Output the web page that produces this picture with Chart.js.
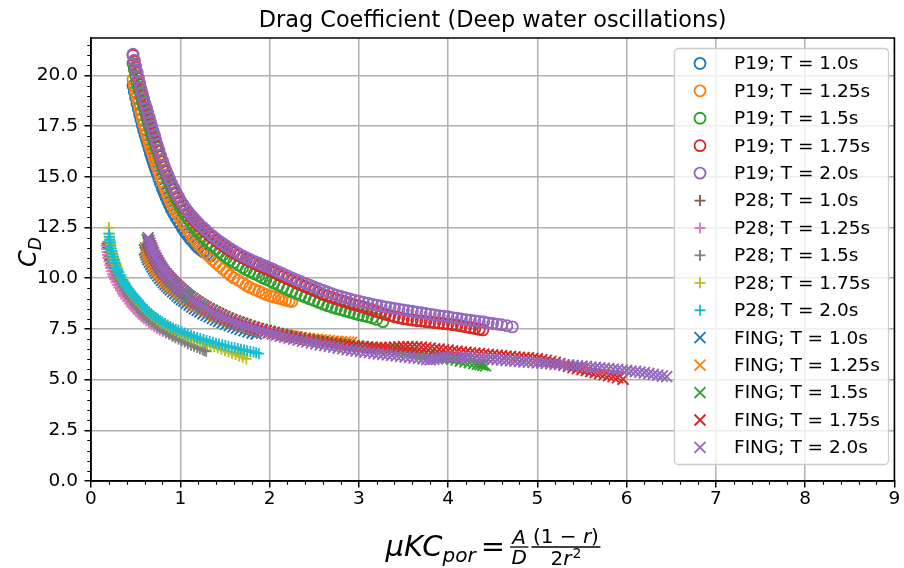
<!DOCTYPE html>
<html>
<head>
<meta charset="utf-8">
<script src="https://cdn.jsdelivr.net/npm/chart.js@4.4.1/dist/chart.umd.min.js"></script>
<style>
  html, body { margin: 0; padding: 0; background: #fff; }
  #wrap { width: 904px; height: 568px; }
</style>
</head>
<body>
<div id="wrap"><canvas id="cd-chart" width="904" height="568"></canvas></div>
<script>
// Axes ticks
const xTicks = [0, 1, 2, 3, 4, 5, 6, 7, 8, 9];
const yTicks = [0, 2.5, 5, 7.5, 10, 12.5, 15, 17.5, 20];

const periods = ["1.0", "1.25", "1.5", "1.75", "2.0"];
const tab10 = ["#1f77b4", "#ff7f0e", "#2ca02c", "#d62728", "#9467bd",
               "#8c564b", "#e377c2", "#7f7f7f", "#bcbd22", "#17becf"];

// ---- P19 (circles) ----
const p19T10x = [0.47,0.485,0.50,0.515,0.53,0.545,0.56,0.575,0.59,0.605,0.62,0.635,0.65,0.665,0.68,0.695,0.71,0.725,0.74,0.76,0.78,0.80,0.82,0.84,0.86,0.88,0.90,0.925,0.95,0.975,1.00,1.025,1.05,1.075,1.10,1.125,1.15,1.175,1.20,1.23,1.26,1.30,1.34];
const p19T10y = [19.5,19.2,18.9,18.62,18.35,18.07,17.8,17.55,17.3,17.07,16.85,16.62,16.4,16.17,15.95,15.75,15.55,15.35,15.15,14.9,14.65,14.42,14.2,14.0,13.8,13.6,13.4,13.2,13.0,12.82,12.65,12.47,12.3,12.15,12.0,11.87,11.75,11.62,11.5,11.4,11.3,11.2,11.1];

const p19T125x = [0.47,0.485,0.50,0.515,0.53,0.545,0.56,0.575,0.59,0.605,0.62,0.635,0.65,0.665,0.68,0.695,0.71,0.725,0.74,0.76,0.78,0.80,0.82,0.84,0.86,0.88,0.90,0.925,0.95,0.975,1.00,1.03,1.06,1.09,1.12,1.15,1.18,1.21,1.25,1.28,1.32,1.36,1.40,1.44,1.48,1.52,1.56,1.60,1.65,1.70,1.74,1.78,1.83,1.88,1.92,1.96,2.01,2.05,2.10,2.14,2.18,2.22,2.25];
const p19T125y = [19.8,19.5,19.2,18.92,18.65,18.37,18.1,17.85,17.6,17.37,17.15,16.92,16.7,16.5,16.3,16.1,15.9,15.7,15.5,15.25,15.0,14.77,14.55,14.32,14.1,13.9,13.7,13.5,13.3,13.12,12.95,12.75,12.55,12.35,12.15,11.97,11.8,11.62,11.45,11.27,11.1,10.92,10.75,10.6,10.45,10.3,10.15,10.02,9.9,9.77,9.65,9.55,9.45,9.36,9.28,9.2,9.13,9.07,9.02,8.97,8.92,8.88,8.85];

const p19T15x = [0.47,0.485,0.50,0.515,0.53,0.545,0.56,0.575,0.59,0.605,0.62,0.635,0.65,0.665,0.68,0.695,0.71,0.725,0.74,0.76,0.78,0.80,0.82,0.84,0.86,0.88,0.90,0.925,0.95,0.975,1.00,1.03,1.06,1.09,1.12,1.15,1.18,1.21,1.25,1.28,1.32,1.36,1.40,1.44,1.48,1.52,1.56,1.60,1.65,1.70,1.74,1.78,1.83,1.88,1.92,1.96,2.01,2.05,2.10,2.15,2.20,2.25,2.30,2.35,2.40,2.45,2.50,2.55,2.60,2.65,2.70,2.75,2.80,2.85,2.90,2.95,3.00,3.05,3.10,3.15,3.20,3.27];
const p19T15y = [20.6,20.3,20.0,19.72,19.45,19.2,18.95,18.7,18.45,18.22,18.0,17.77,17.55,17.32,17.1,16.9,16.7,16.5,16.3,16.05,15.8,15.55,15.3,15.07,14.85,14.65,14.45,14.2,13.95,13.72,13.5,13.3,13.1,12.92,12.75,12.57,12.4,12.25,12.05,11.92,11.75,11.6,11.45,11.3,11.15,11.02,10.9,10.78,10.65,10.52,10.42,10.33,10.22,10.12,10.03,9.95,9.85,9.76,9.65,9.55,9.45,9.35,9.25,9.16,9.07,8.98,8.9,8.81,8.72,8.64,8.57,8.51,8.45,8.38,8.32,8.26,8.2,8.15,8.1,8.04,7.97,7.86];

const p19T175x = [0.47,0.485,0.50,0.515,0.53,0.545,0.56,0.575,0.59,0.605,0.62,0.635,0.65,0.665,0.68,0.695,0.71,0.725,0.74,0.76,0.78,0.80,0.82,0.84,0.86,0.88,0.90,0.925,0.95,0.975,1.00,1.03,1.06,1.09,1.12,1.15,1.18,1.21,1.25,1.28,1.32,1.36,1.40,1.44,1.48,1.52,1.56,1.60,1.65,1.70,1.74,1.78,1.83,1.88,1.92,1.96,2.01,2.05,2.10,2.15,2.20,2.25,2.30,2.35,2.40,2.45,2.50,2.55,2.60,2.65,2.70,2.75,2.80,2.85,2.90,2.95,3.00,3.05,3.10,3.15,3.20,3.25,3.30,3.35,3.40,3.45,3.50,3.55,3.60,3.65,3.70,3.75,3.80,3.85,3.90,3.95,4.00,4.05,4.10,4.15,4.20,4.25,4.30,4.35,4.39];
const p19T175y = [21.0,20.7,20.4,20.12,19.85,19.57,19.3,19.05,18.8,18.57,18.35,18.12,17.9,17.67,17.45,17.22,17.0,16.77,16.55,16.27,16.0,15.75,15.5,15.27,15.05,14.85,14.65,14.42,14.2,14.0,13.8,13.6,13.4,13.22,13.05,12.9,12.75,12.62,12.45,12.32,12.15,12.0,11.85,11.72,11.6,11.47,11.35,11.25,11.12,11.01,10.92,10.83,10.72,10.62,10.53,10.46,10.37,10.28,10.18,10.08,9.98,9.88,9.78,9.68,9.58,9.49,9.4,9.3,9.2,9.12,9.05,8.97,8.9,8.83,8.76,8.7,8.64,8.57,8.5,8.43,8.36,8.29,8.22,8.16,8.1,8.05,8.0,7.97,7.94,7.91,7.89,7.86,7.84,7.81,7.79,7.76,7.74,7.71,7.68,7.64,7.6,7.56,7.52,7.48,7.45];

const p19T20x = [0.47,0.485,0.50,0.515,0.53,0.545,0.56,0.575,0.59,0.605,0.62,0.635,0.65,0.665,0.68,0.695,0.71,0.725,0.74,0.76,0.78,0.80,0.82,0.84,0.86,0.88,0.90,0.925,0.95,0.975,1.00,1.03,1.06,1.09,1.12,1.15,1.18,1.21,1.25,1.28,1.32,1.36,1.40,1.44,1.48,1.52,1.56,1.60,1.65,1.70,1.74,1.78,1.83,1.88,1.92,1.96,2.01,2.05,2.10,2.15,2.20,2.25,2.30,2.35,2.40,2.45,2.50,2.55,2.60,2.65,2.70,2.75,2.80,2.85,2.90,2.95,3.00,3.05,3.10,3.15,3.20,3.25,3.30,3.35,3.40,3.45,3.50,3.55,3.60,3.65,3.70,3.75,3.80,3.85,3.90,3.95,4.00,4.05,4.10,4.15,4.20,4.25,4.30,4.35,4.40,4.45,4.50,4.55,4.60,4.66,4.72];
const p19T20y = [21.05,20.75,20.45,20.17,19.9,19.62,19.35,19.1,18.85,18.62,18.4,18.17,17.95,17.72,17.5,17.27,17.05,16.82,16.6,16.32,16.05,15.8,15.55,15.32,15.1,14.9,14.7,14.47,14.25,14.05,13.85,13.65,13.45,13.28,13.12,12.97,12.82,12.69,12.52,12.4,12.24,12.09,11.95,11.82,11.7,11.58,11.46,11.35,11.22,11.1,11.02,10.93,10.83,10.74,10.66,10.59,10.5,10.42,10.32,10.22,10.12,10.02,9.93,9.84,9.75,9.66,9.57,9.48,9.4,9.32,9.24,9.17,9.1,9.04,8.98,8.92,8.87,8.82,8.77,8.72,8.67,8.63,8.59,8.55,8.51,8.47,8.44,8.4,8.37,8.33,8.3,8.26,8.23,8.19,8.16,8.13,8.1,8.06,8.03,7.99,7.96,7.93,7.9,7.87,7.84,7.8,7.77,7.74,7.71,7.66,7.6];

// ---- P28 (plus) ----
const p28T10x = [0.18,0.185,0.19,0.20,0.21,0.22,0.23,0.245,0.26,0.275,0.29,0.31,0.33,0.35,0.37,0.395,0.42,0.445,0.47,0.495,0.52,0.55,0.58];
const p28T10y = [11.7,11.5,11.3,11.1,10.9,10.72,10.55,10.37,10.2,10.02,9.85,9.67,9.5,9.35,9.2,9.05,8.9,8.75,8.6,8.47,8.35,8.22,8.1];

const p28T125x = [0.17,0.175,0.18,0.185,0.19,0.20,0.21,0.22,0.23,0.24,0.25,0.265,0.28,0.295,0.31,0.33,0.35,0.37,0.39,0.41,0.43,0.455,0.48,0.505,0.53,0.56,0.59,0.62,0.65,0.68,0.71,0.74,0.77,0.805,0.84,0.88,0.92];
const p28T125y = [11.6,11.45,11.3,11.15,11.0,10.82,10.65,10.5,10.35,10.22,10.1,9.95,9.8,9.67,9.55,9.4,9.25,9.12,9.0,8.87,8.75,8.62,8.5,8.37,8.25,8.12,8.0,7.9,7.8,7.7,7.6,7.52,7.45,7.37,7.3,7.22,7.15];

const p28T15x = [0.19,0.195,0.20,0.21,0.22,0.23,0.24,0.25,0.26,0.275,0.29,0.305,0.32,0.34,0.36,0.38,0.40,0.42,0.44,0.465,0.49,0.515,0.54,0.565,0.59,0.62,0.65,0.68,0.71,0.74,0.77,0.805,0.84,0.875,0.91,0.945,0.98,1.015,1.05,1.085,1.12,1.155,1.19,1.22,1.25,1.27,1.29];
const p28T15y = [11.8,11.62,11.45,11.27,11.1,10.95,10.8,10.65,10.5,10.32,10.15,10.0,9.85,9.7,9.55,9.4,9.25,9.12,9.0,8.85,8.7,8.57,8.45,8.32,8.2,8.07,7.95,7.85,7.75,7.65,7.55,7.45,7.35,7.25,7.15,7.07,7.0,6.92,6.85,6.77,6.7,6.64,6.58,6.52,6.47,6.43,6.4];

const p28T175x = [0.20,0.205,0.21,0.215,0.22,0.23,0.24,0.25,0.26,0.27,0.28,0.29,0.30,0.315,0.33,0.345,0.36,0.38,0.40,0.42,0.44,0.46,0.48,0.505,0.53,0.555,0.58,0.605,0.63,0.655,0.68,0.71,0.74,0.77,0.80,0.835,0.87,0.905,0.94,0.975,1.01,1.045,1.08,1.115,1.15,1.185,1.22,1.26,1.30,1.34,1.38,1.42,1.46,1.50,1.54,1.58,1.62,1.66,1.70,1.74];
const p28T175y = [12.5,12.2,12.0,11.82,11.65,11.47,11.3,11.12,10.95,10.82,10.7,10.57,10.45,10.3,10.15,10.02,9.9,9.75,9.6,9.47,9.35,9.22,9.1,8.97,8.85,8.72,8.6,8.49,8.38,8.28,8.18,8.06,7.95,7.86,7.78,7.68,7.58,7.5,7.42,7.34,7.27,7.2,7.13,7.06,7.0,6.94,6.88,6.81,6.75,6.68,6.62,6.56,6.5,6.43,6.37,6.3,6.24,6.17,6.1,6.02];

const p28T20x = [0.20,0.205,0.21,0.215,0.22,0.225,0.23,0.24,0.25,0.26,0.27,0.28,0.29,0.30,0.31,0.325,0.34,0.355,0.37,0.385,0.40,0.415,0.43,0.45,0.47,0.49,0.51,0.53,0.55,0.575,0.60,0.625,0.65,0.675,0.70,0.725,0.75,0.775,0.80,0.83,0.86,0.89,0.92,0.95,0.98,1.015,1.05,1.085,1.12,1.155,1.19,1.225,1.26,1.295,1.33,1.365,1.40,1.435,1.47,1.505,1.54,1.575,1.61,1.645,1.68,1.715,1.75,1.785,1.82,1.85,1.88];
const p28T20y = [12.2,12.05,11.9,11.75,11.6,11.47,11.35,11.2,11.05,10.9,10.75,10.62,10.5,10.4,10.3,10.17,10.05,9.92,9.8,9.7,9.6,9.5,9.4,9.3,9.2,9.1,9.0,8.9,8.8,8.67,8.55,8.45,8.35,8.25,8.15,8.07,8.0,7.92,7.85,7.77,7.7,7.62,7.55,7.49,7.43,7.36,7.3,7.24,7.19,7.13,7.08,7.03,6.98,6.93,6.89,6.84,6.8,6.76,6.72,6.68,6.64,6.6,6.57,6.53,6.5,6.46,6.43,6.39,6.36,6.32,6.28];

// ---- FING (x) ----
const fingT10x = [0.60,0.61,0.62,0.63,0.64,0.655,0.67,0.685,0.70,0.715,0.73,0.75,0.77,0.79,0.81,0.83,0.85,0.87,0.89,0.915,0.94,0.965,0.99,1.015,1.04,1.07,1.10,1.13,1.16,1.19,1.22,1.255,1.29,1.325,1.36,1.395,1.43,1.47,1.51,1.55,1.59,1.63,1.67,1.715,1.76,1.805,1.85];
const fingT10y = [11.4,11.27,11.15,11.03,10.92,10.8,10.68,10.56,10.45,10.35,10.24,10.12,10.0,9.9,9.8,9.7,9.61,9.52,9.43,9.33,9.23,9.13,9.04,8.95,8.87,8.77,8.68,8.59,8.5,8.42,8.34,8.25,8.17,8.1,8.02,7.95,7.88,7.8,7.73,7.66,7.6,7.54,7.48,7.42,7.36,7.3,7.25];

const fingT125x = [0.61,0.62,0.63,0.64,0.65,0.665,0.68,0.695,0.71,0.725,0.74,0.76,0.78,0.80,0.82,0.84,0.86,0.88,0.90,0.925,0.95,0.975,1.00,1.025,1.05,1.08,1.11,1.14,1.17,1.20,1.23,1.265,1.30,1.335,1.37,1.405,1.44,1.48,1.52,1.56,1.60,1.64,1.68,1.725,1.77,1.815,1.86,1.905,1.95,1.995,2.04,2.085,2.13,2.175,2.22,2.265,2.31,2.355,2.40,2.445,2.49,2.535,2.58,2.625,2.67,2.715,2.76,2.805,2.85,2.885,2.92];
const fingT125y = [11.5,11.37,11.25,11.13,11.02,10.9,10.78,10.66,10.55,10.45,10.35,10.23,10.12,10.02,9.92,9.83,9.74,9.65,9.57,9.47,9.38,9.29,9.2,9.11,9.03,8.94,8.85,8.76,8.68,8.6,8.52,8.44,8.36,8.28,8.21,8.14,8.07,8.0,7.93,7.86,7.8,7.74,7.68,7.62,7.57,7.51,7.46,7.41,7.37,7.33,7.29,7.25,7.22,7.19,7.16,7.13,7.1,7.07,7.05,7.02,7.0,6.98,6.96,6.94,6.92,6.9,6.89,6.87,6.86,6.85,6.84];

const fingT15x = [0.63,0.64,0.65,0.66,0.67,0.685,0.70,0.715,0.73,0.745,0.76,0.775,0.79,0.81,0.83,0.85,0.87,0.89,0.91,0.93,0.95,0.975,1.00,1.025,1.05,1.075,1.10,1.13,1.16,1.19,1.22,1.25,1.28,1.315,1.35,1.385,1.42,1.455,1.49,1.53,1.57,1.61,1.65,1.69,1.73,1.775,1.82,1.865,1.91,1.955,2.00,2.045,2.09,2.14,2.19,2.24,2.29,2.34,2.39,2.44,2.49,2.54,2.59,2.64,2.69,2.74,2.79,2.84,2.89,2.94,2.99,3.04,3.09,3.14,3.19,3.24,3.29,3.34,3.39,3.44,3.49,3.54,3.59,3.64,3.69,3.74,3.79,3.84,3.89,3.94,3.99,4.04,4.09,4.14,4.19,4.24,4.29,4.33,4.36,4.39,4.42];
const fingT15y = [11.9,11.75,11.62,11.5,11.4,11.26,11.12,11.0,10.88,10.76,10.65,10.55,10.45,10.33,10.22,10.12,10.02,9.93,9.84,9.75,9.67,9.57,9.47,9.37,9.28,9.19,9.1,9.01,8.92,8.83,8.74,8.66,8.58,8.5,8.42,8.34,8.27,8.2,8.12,8.04,7.97,7.9,7.84,7.78,7.72,7.65,7.59,7.53,7.48,7.43,7.38,7.33,7.28,7.23,7.18,7.13,7.09,7.05,7.01,6.97,6.94,6.9,6.87,6.84,6.81,6.78,6.75,6.72,6.7,6.67,6.65,6.62,6.6,6.58,6.56,6.54,6.52,6.5,6.47,6.44,6.41,6.38,6.34,6.31,6.27,6.24,6.2,6.17,6.13,6.09,6.05,6.01,5.97,5.92,5.88,5.84,5.8,5.77,5.74,5.71,5.68];

const fingT175x = [0.64,0.65,0.66,0.67,0.68,0.695,0.71,0.725,0.74,0.755,0.77,0.785,0.80,0.82,0.84,0.86,0.88,0.90,0.92,0.94,0.96,0.985,1.01,1.035,1.06,1.085,1.11,1.14,1.17,1.20,1.23,1.26,1.29,1.325,1.36,1.395,1.43,1.465,1.50,1.54,1.58,1.62,1.66,1.70,1.74,1.785,1.83,1.875,1.92,1.965,2.01,2.055,2.10,2.15,2.20,2.25,2.30,2.35,2.40,2.45,2.50,2.55,2.60,2.65,2.70,2.75,2.80,2.85,2.90,2.95,3.00,3.05,3.10,3.15,3.20,3.25,3.30,3.35,3.40,3.45,3.50,3.55,3.60,3.65,3.70,3.75,3.80,3.85,3.90,3.95,4.00,4.05,4.10,4.15,4.20,4.25,4.30,4.35,4.40,4.45,4.50,4.55,4.60,4.65,4.70,4.75,4.80,4.85,4.90,4.95,5.00,5.05,5.10,5.15,5.20,5.25,5.30,5.35,5.40,5.45,5.50,5.55,5.60,5.65,5.70,5.75,5.80,5.85,5.90,5.96];
const fingT175y = [11.85,11.72,11.6,11.49,11.38,11.24,11.1,10.97,10.85,10.73,10.62,10.52,10.42,10.31,10.2,10.1,10.0,9.91,9.82,9.73,9.65,9.55,9.45,9.35,9.26,9.17,9.08,8.99,8.9,8.81,8.72,8.64,8.56,8.48,8.4,8.32,8.25,8.17,8.1,8.02,7.95,7.88,7.82,7.76,7.7,7.63,7.57,7.51,7.46,7.41,7.36,7.31,7.26,7.21,7.16,7.11,7.07,7.03,6.99,6.95,6.92,6.88,6.85,6.82,6.79,6.76,6.73,6.7,6.68,6.66,6.64,6.62,6.6,6.59,6.58,6.58,6.58,6.59,6.6,6.61,6.62,6.62,6.62,6.61,6.6,6.58,6.55,6.52,6.5,6.47,6.45,6.42,6.4,6.37,6.35,6.32,6.3,6.28,6.26,6.24,6.22,6.2,6.18,6.16,6.14,6.12,6.1,6.08,6.07,6.05,6.03,5.99,5.95,5.9,5.85,5.79,5.72,5.66,5.6,5.55,5.5,5.45,5.4,5.35,5.3,5.25,5.2,5.15,5.1,5.02];

const fingT20x = [0.64,0.65,0.66,0.67,0.68,0.69,0.70,0.715,0.73,0.745,0.76,0.775,0.79,0.805,0.82,0.84,0.86,0.88,0.90,0.92,0.94,0.96,0.98,1.005,1.03,1.055,1.08,1.105,1.13,1.16,1.19,1.22,1.25,1.28,1.31,1.345,1.38,1.415,1.45,1.485,1.52,1.56,1.60,1.64,1.68,1.72,1.76,1.805,1.85,1.895,1.94,1.985,2.03,2.075,2.12,2.17,2.22,2.27,2.32,2.37,2.42,2.47,2.52,2.57,2.62,2.67,2.72,2.77,2.82,2.87,2.92,2.97,3.02,3.07,3.12,3.17,3.22,3.27,3.32,3.37,3.42,3.47,3.52,3.57,3.62,3.67,3.72,3.76,3.80,3.84,3.88,3.92,3.96,4.00,4.05,4.10,4.15,4.20,4.25,4.30,4.35,4.40,4.45,4.50,4.55,4.60,4.65,4.70,4.75,4.80,4.85,4.90,4.95,5.00,5.05,5.10,5.15,5.20,5.25,5.30,5.35,5.40,5.45,5.50,5.55,5.60,5.65,5.70,5.75,5.80,5.85,5.90,5.95,6.00,6.05,6.10,6.15,6.20,6.25,6.30,6.35,6.40,6.45];
const fingT20y = [12.0,11.86,11.72,11.6,11.48,11.36,11.25,11.12,11.0,10.87,10.75,10.63,10.52,10.42,10.32,10.21,10.1,10.0,9.9,9.81,9.72,9.63,9.55,9.45,9.35,9.25,9.15,9.06,8.98,8.89,8.8,8.71,8.62,8.54,8.46,8.38,8.3,8.22,8.15,8.07,8.0,7.92,7.85,7.78,7.72,7.66,7.6,7.54,7.48,7.42,7.36,7.3,7.25,7.2,7.15,7.1,7.05,7.0,6.95,6.9,6.86,6.81,6.77,6.72,6.68,6.64,6.6,6.56,6.52,6.48,6.45,6.42,6.39,6.36,6.33,6.3,6.27,6.25,6.22,6.2,6.17,6.15,6.12,6.1,6.07,6.05,6.02,6.0,5.98,6.0,6.03,6.07,6.1,6.11,6.12,6.11,6.1,6.09,6.08,6.06,6.05,6.03,6.02,6.0,5.99,5.97,5.95,5.93,5.92,5.9,5.88,5.86,5.85,5.83,5.82,5.8,5.78,5.76,5.75,5.73,5.72,5.7,5.68,5.66,5.65,5.62,5.6,5.58,5.56,5.54,5.52,5.5,5.47,5.45,5.42,5.4,5.37,5.34,5.3,5.26,5.22,5.18,5.15];

const FONT = "DejaVu Sans";

// series table: label, data, colour, marker
const series = [
  ["P19", p19T10x, p19T10y], ["P19", p19T125x, p19T125y], ["P19", p19T15x, p19T15y],
  ["P19", p19T175x, p19T175y], ["P19", p19T20x, p19T20y],
  ["P28", p28T10x, p28T10y], ["P28", p28T125x, p28T125y], ["P28", p28T15x, p28T15y],
  ["P28", p28T175x, p28T175y], ["P28", p28T20x, p28T20y],
  ["FING", fingT10x, fingT10y], ["FING", fingT125x, fingT125y], ["FING", fingT15x, fingT15y],
  ["FING", fingT175x, fingT175y], ["FING", fingT20x, fingT20y]
].map(([name, xs, ys], i) => ({
  label: name + "; T = " + periods[i % 5] + "s",
  data: xs.map((x, k) => ({ x: x, y: ys[k] })),
  color: tab10[i % 10],
  marker: name === "P19" ? "circle" : name === "P28" ? "cross" : "crossRot"
}));

const datasets = series.map((s, i) => ({
  label: s.label,
  data: s.data,
  order: series.length - i, // later series drawn on top
  pointStyle: s.marker,
  pointRadius: s.marker === "crossRot" ? 7.8 : 5.5,
  pointBorderColor: s.color,
  pointBackgroundColor: "rgba(0,0,0,0)",
  pointBorderWidth: 1.85,
  pointHoverRadius: 0,
  showLine: false
}));

// own marker drawing for the legend
function drawMarker(ctx, marker, x, y, color) {
  const r = 5.5;
  ctx.strokeStyle = color;
  ctx.lineWidth = 1.85;
  ctx.beginPath();
  if (marker === "circle") {
    ctx.arc(x, y, r, 0, Math.PI * 2);
  } else if (marker === "cross") {
    ctx.moveTo(x - r, y); ctx.lineTo(x + r, y);
    ctx.moveTo(x, y - r); ctx.lineTo(x, y + r);
  } else {
    ctx.moveTo(x - r, y - r); ctx.lineTo(x + r, y + r);
    ctx.moveTo(x - r, y + r); ctx.lineTo(x + r, y - r);
  }
  ctx.stroke();
}

// x label: muKC_por = A/D (1 - r)/(2r^2)
function drawXLabel(ctx, cx, B) {
  const big = 29, small = 20, tiny = 14;
  const it = s => "italic " + s + "px " + FONT;
  const rm = s => s + "px " + FONT;
  const barY = B - 9;

  ctx.font = it(big); const w1 = ctx.measureText("μKC").width;
  ctx.font = it(small); const w2 = ctx.measureText("por").width;
  ctx.font = rm(big); const wEq = ctx.measureText("=").width;
  ctx.font = it(small);
  const wA = ctx.measureText("A").width, wD = ctx.measureText("D").width, wr = ctx.measureText("r").width;
  ctx.font = rm(small);
  const wOpen = ctx.measureText("(1 − ").width, wClose = ctx.measureText(")").width, wTwo = ctx.measureText("2").width;
  ctx.font = rm(tiny); const wSq = ctx.measureText("2").width;
  const f1 = Math.max(wA, wD) + 3;
  const num2 = wOpen + wr + wClose, den2 = wTwo + wr + 1 + wSq;
  const f2 = Math.max(num2, den2) + 3;
  const gap = 5;
  const total = w1 + w2 + gap + wEq + gap + f1 + 3 + f2;
  let x = cx - total / 2;

  ctx.fillStyle = "#000";
  ctx.strokeStyle = "#000";
  ctx.textAlign = "left";
  ctx.textBaseline = "alphabetic";
  ctx.font = it(big); ctx.fillText("μKC", x, B); x += w1;
  ctx.font = it(small); ctx.fillText("por", x, B + 6); x += w2 + gap;
  ctx.font = rm(big); ctx.fillText("=", x, B); x += wEq + gap;

  // A over D
  ctx.lineWidth = 1.3;
  ctx.beginPath(); ctx.moveTo(x, barY); ctx.lineTo(x + f1, barY); ctx.stroke();
  ctx.font = it(small);
  ctx.fillText("A", x + (f1 - wA) / 2, barY - 3);
  ctx.fillText("D", x + (f1 - wD) / 2, barY + 17);
  x += f1 + 3;

  // (1 - r) over 2r^2
  ctx.beginPath(); ctx.moveTo(x, barY); ctx.lineTo(x + f2, barY); ctx.stroke();
  let nx = x + (f2 - num2) / 2;
  ctx.font = rm(small); ctx.fillText("(1 − ", nx, barY - 4); nx += wOpen;
  ctx.font = it(small); ctx.fillText("r", nx, barY - 4); nx += wr;
  ctx.font = rm(small); ctx.fillText(")", nx, barY - 4);
  let dx = x + (f2 - den2) / 2;
  ctx.font = rm(small); ctx.fillText("2", dx, barY + 18); dx += wTwo;
  ctx.font = it(small); ctx.fillText("r", dx, barY + 18); dx += wr + 1;
  ctx.font = rm(tiny); ctx.fillText("2", dx, barY + 11);
}

// frame, minor ticks, x tick labels, axis titles and legend box
const decorations = {
  id: "decorations",
  afterDraw(chart) {
    const ctx = chart.ctx;
    const a = chart.chartArea;
    const xs = chart.scales.x, ys = chart.scales.y;
    ctx.save();

    // minor ticks
    ctx.strokeStyle = "#000";
    ctx.lineWidth = 1.1;
    ctx.beginPath();
    for (let i = 1; i < 45; i++) {
      if (i % 5 === 0) continue;
      const px = Math.round(xs.getPixelForValue(i * 0.2)) + 0.5;
      ctx.moveTo(px, a.bottom); ctx.lineTo(px, a.bottom + 3.7);
    }
    for (let i = 1; i < 44; i++) {
      if (i % 5 === 0) continue;
      const py = Math.round(ys.getPixelForValue(i * 0.5)) + 0.5;
      ctx.moveTo(a.left, py); ctx.lineTo(a.left - 3.7, py);
    }
    ctx.stroke();

    // x tick labels (drawn here so the last one does not shrink the plot)
    ctx.fillStyle = "#000";
    ctx.font = "18.5px " + FONT;
    ctx.textAlign = "center";
    ctx.textBaseline = "middle";
    xTicks.forEach(v => ctx.fillText(String(v), xs.getPixelForValue(v), a.bottom + 18.5));

    // spines
    ctx.lineWidth = 1.5;
    ctx.strokeRect(a.left, a.top, a.right - a.left, a.bottom - a.top);

    // legend
    const lx = 674.5, ly = 48.5, lw = 214, lh = 416;
    ctx.beginPath();
    ctx.roundRect(lx, ly, lw, lh, 4);
    ctx.fillStyle = "rgba(255,255,255,0.8)";
    ctx.fill();
    ctx.strokeStyle = "#cccccc";
    ctx.lineWidth = 1.3;
    ctx.stroke();
    ctx.font = "18.5px " + FONT;
    ctx.textAlign = "left";
    ctx.textBaseline = "middle";
    series.forEach((s, i) => {
      const cy = 63.4 + i * 27.43;
      drawMarker(ctx, s.marker, 700, cy, s.color);
      ctx.fillStyle = "#000";
      ctx.fillText(s.label, 734, cy + 1);
    });

    // y title C_D
    ctx.save();
    ctx.translate(28, 252);
    ctx.rotate(-Math.PI / 2);
    ctx.fillStyle = "#000";
    ctx.textBaseline = "alphabetic";
    ctx.font = "italic 24px " + FONT;
    const wc = ctx.measureText("C").width;
    ctx.font = "italic 17px " + FONT;
    const wd = ctx.measureText("D").width;
    const x0 = -(wc + wd) / 2;
    ctx.font = "italic 24px " + FONT;
    ctx.fillText("C", x0, 8);
    ctx.font = "italic 17px " + FONT;
    ctx.fillText("D", x0 + wc, 13);
    ctx.restore();

    // x title
    drawXLabel(ctx, 493, 556);
    ctx.restore();
  }
};

new Chart(document.getElementById("cd-chart"), {
  type: "scatter",
  data: { datasets: datasets },
  options: {
    responsive: false,
    animation: false,
    devicePixelRatio: 1,
    events: [],
    layout: { padding: { left: 0, right: 5, top: 0, bottom: 0 } },
    plugins: {
      legend: { display: false },
      tooltip: { enabled: false },
      title: {
        display: true,
        fullSize: false,
        text: "Drag Coefficient (Deep water oscillations)",
        color: "#000",
        font: { family: FONT, size: 22.4, weight: "normal" },
        padding: { top: 8, bottom: 3.1 }
      }
    },
    scales: {
      x: {
        type: "linear",
        min: 0,
        max: 9,
        afterBuildTicks: (s) => { s.ticks = xTicks.map(v => ({ value: v })); },
        afterFit: (s) => { s.height = 87; },
        grid: { color: "#b0b0b0", lineWidth: 1.5, tickColor: "#000", tickLength: 6.5, tickWidth: 1.5 },
        border: { color: "#000", width: 1.5 },
        ticks: { display: false }
      },
      y: {
        type: "linear",
        min: 0,
        max: 21.85,
        afterBuildTicks: (s) => { s.ticks = yTicks.map(v => ({ value: v })); },
        afterFit: (s) => { s.width = 91; },
        grid: { color: "#b0b0b0", lineWidth: 1.5, tickColor: "#000", tickLength: 6.5, tickWidth: 1.5 },
        border: { color: "#000", width: 1.5 },
        ticks: {
          color: "#000", autoSkip: false, padding: 6.5,
          font: { family: FONT, size: 18.5 },
          callback: (v) => v.toFixed(1)
        }
      }
    }
  },
  plugins: [decorations]
});
</script>
</body>
</html>
